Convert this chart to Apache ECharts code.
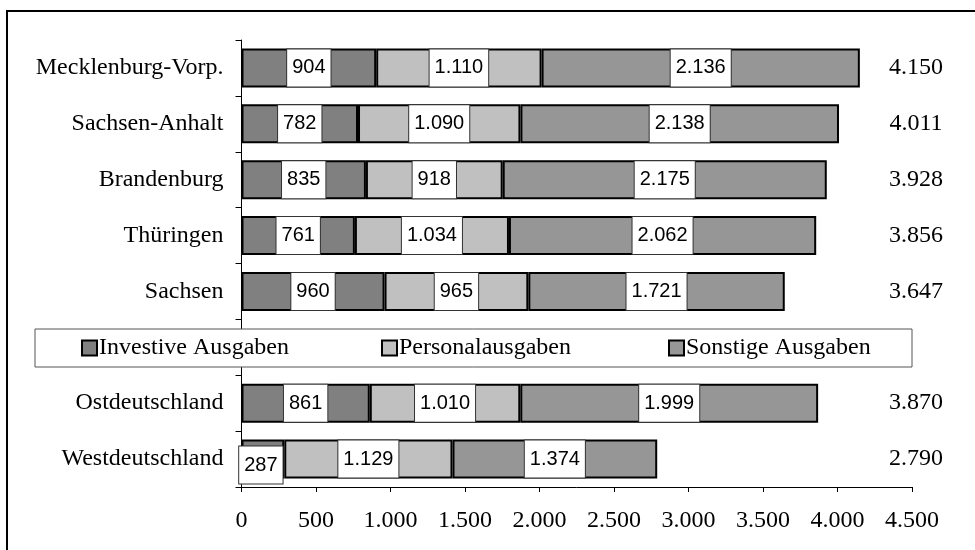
<!DOCTYPE html>
<html>
<head>
<meta charset="utf-8">
<script src="https://cdn.jsdelivr.net/npm/echarts@6/dist/echarts.min.js"></script>
<style>html,body{margin:0;padding:0;background:#fff}#c{width:975px;height:550px}</style>
</head>
<body>
<div id="c"></div>
<script>
const categories = ['Mecklenburg-Vorp.', 'Sachsen-Anhalt', 'Brandenburg', 'Thüringen', 'Sachsen', '', 'Ostdeutschland', 'Westdeutschland'];
const investive = [904, 782, 835, 761, 960, null, 861, 287];
const personal = [1110, 1090, 918, 1034, 965, null, 1010, 1129];
const sonstige = [2136, 2138, 2175, 2062, 1721, null, 1999, 1374];
const totals = [4150, 4011, 3928, 3856, 3647, null, 3870, 2790];
const seriesNames = ['Investive Ausgaben', 'Personalausgaben', 'Sonstige Ausgaben'];
const axisMin = 0, axisMax = 4500, axisStep = 500;

function de(n) {
  if (n === null || n === undefined) return '';
  return String(n).replace(/\B(?=(\d{3})+(?!\d))/g, '.');
}

const serif = 'Liberation Serif';
const sans = 'Liberation Sans';
const colors = ['#808080', '#C0C0C0', '#969696'];

const labelStyle = {
  show: true,
  position: 'inside',
  formatter: p => de(p.value),
  fontFamily: sans,
  fontSize: 20,
  color: '#000',
  lineHeight: 21,
  backgroundColor: '#fff',
  borderColor: '#333',
  borderWidth: 1,
  padding: [8, 5, 8, 5]
};

function mkSeries(name, arr, idx) {
  const data = arr.map((v, i) => {
    if (idx === 0 && categories[i] === 'Westdeutschland') {
      return { value: v, label: { offset: [-2, 6] } };
    }
    return v;
  });
  return {
    name: name,
    type: 'bar',
    stack: 'total',
    barCategoryGap: '30%',
    data: data,
    itemStyle: { color: colors[idx], borderColor: '#000', borderWidth: 2 },
    label: labelStyle,
    emphasis: { disabled: true }
  };
}

const chart = echarts.init(document.getElementById('c'), null, { renderer: 'canvas' });

const legendBase = {
  top: 336,
  padding: 0,
  itemWidth: 15,
  itemHeight: 15,
  itemGap: 0,
  selectedMode: false,
  z: 200,
  icon: 'rect',
  itemStyle: { borderColor: '#000', borderWidth: 2 },
  textStyle: { fontFamily: serif, fontSize: 24, color: '#000', padding: [0, 0, 0, -3] }
};

chart.setOption({
  animation: false,
  backgroundColor: '#fff',
  grid: { left: 241.5, right: 63, top: 40, bottom: 63 },
  legend: [
    Object.assign({}, legendBase, { data: [seriesNames[0]], left: 81 }),
    Object.assign({}, legendBase, { data: [seriesNames[1]], left: 381 }),
    Object.assign({}, legendBase, { data: [seriesNames[2]], left: 668 })
  ],
  xAxis: {
    type: 'value',
    min: axisMin,
    max: axisMax,
    interval: axisStep,
    splitLine: { show: false },
    axisLine: { show: true, lineStyle: { color: '#000', width: 1 } },
    axisTick: { show: true, length: 5, lineStyle: { color: '#000' } },
    axisLabel: { formatter: v => de(v), fontFamily: serif, fontSize: 24, color: '#000', margin: 22 }
  },
  yAxis: [
    {
      type: 'category',
      inverse: true,
      data: categories,
      axisLine: { show: true, lineStyle: { color: '#000', width: 1 } },
      axisTick: { show: true, length: 6, lineStyle: { color: '#000' } },
      axisLabel: { fontFamily: serif, fontSize: 24, color: '#000', margin: 18, padding: [4, 0, 0, 0] }
    },
    {
      type: 'category',
      inverse: true,
      position: 'right',
      data: totals.map(de),
      axisLine: { show: false },
      axisTick: { show: false },
      axisLabel: { fontFamily: serif, fontSize: 24, color: '#000', margin: 4, align: 'center', padding: [10, 0, 0, 0] }
    }
  ],
  graphic: [
    { type: 'rect', z: 100, shape: { x: 35, y: 329, width: 877, height: 38 }, style: { fill: '#fff', stroke: '#555', lineWidth: 1 } },
    { type: 'rect', z: 100, shape: { x: 7, y: 11, width: 980, height: 560 }, style: { fill: 'none', stroke: '#000', lineWidth: 2 } }
  ],
  series: [
    mkSeries(seriesNames[0], investive, 0),
    mkSeries(seriesNames[1], personal, 1),
    mkSeries(seriesNames[2], sonstige, 2)
  ]
});
</script>
</body>
</html>
